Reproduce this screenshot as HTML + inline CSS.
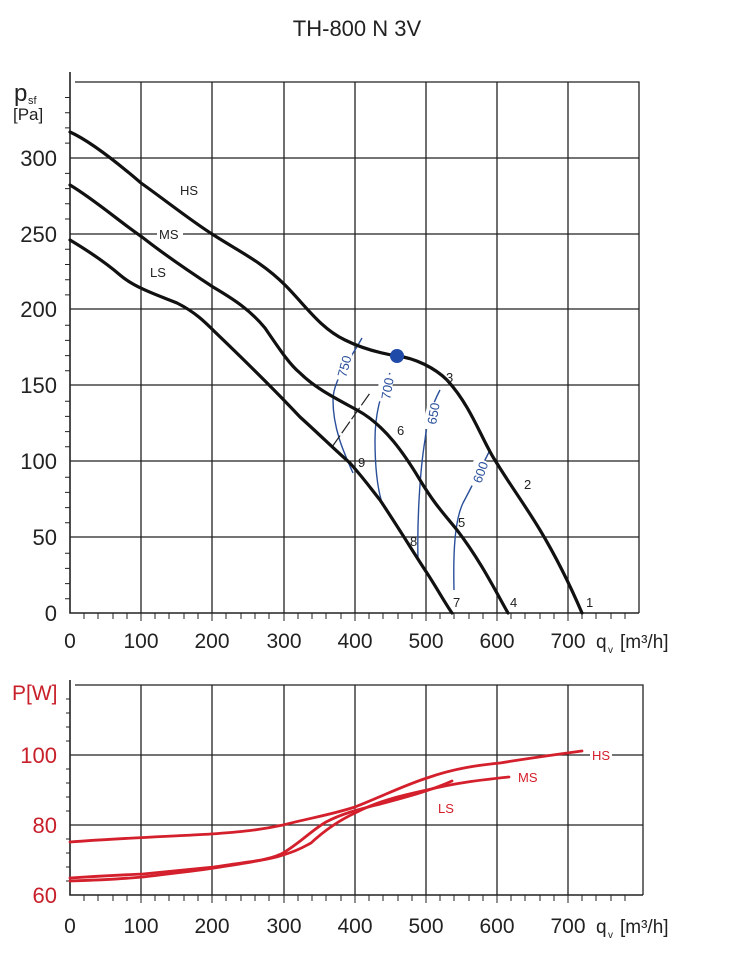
<!DOCTYPE html>
<html><head><meta charset="utf-8"><style>
html,body{margin:0;padding:0;background:#fff}
svg{display:block;font-family:"Liberation Sans",sans-serif}
</style></head><body>
<svg width="750" height="973" viewBox="0 0 750 973" xmlns="http://www.w3.org/2000/svg">
<text x="357" y="36" font-size="22" text-anchor="middle" fill="#222">TH-800 N 3V</text>
<g stroke="#222" stroke-width="1.3" fill="none">
<path d="M75 82H639V613M141 82V613M212 82V613M284 82V613M355 82V613M426 82V613M497 82V613M568 82V613"/>
<path d="M70 158H639M70 234H639M70 309H639M70 385H639M70 461H639M70 537H639"/>
<path d="M70 72V613H639" stroke-width="1.6"/>
</g>
<g stroke="#222" stroke-width="1">
<path d="M65 97.5h5M65 112.7h5M65 127.9h5M65 143.1h5M65 173.4h5M65 188.6h5M65 203.8h5M65 219h5M65 249.3h5M65 264.5h5M65 279.7h5M65 294.9h5M65 325.2h5M65 340.4h5M65 355.6h5M65 370.8h5M65 401.2h5M65 416.4h5M65 431.6h5M65 446.8h5M65 477.2h5M65 492.4h5M65 507.6h5M65 522.8h5M65 553.2h5M65 568.4h5M65 583.6h5M65 598.8h5"/>
<path d="M84 613v6M98 613v6M113 613v6M127 613v6M155 613v6M169 613v6M184 613v6M198 613v6M226 613v6M241 613v6M255 613v6M269 613v6M298 613v6M312 613v6M326 613v6M341 613v6M369 613v6M383 613v6M398 613v6M412 613v6M440 613v6M454 613v6M469 613v6M483 613v6M511 613v6M525 613v6M540 613v6M554 613v6M582 613v6M596 613v6M611 613v6M625 613v6M141 613v8M212 613v8M284 613v8M355 613v8M426 613v8M497 613v8M568 613v8"/>
</g>
<g font-size="22" fill="#222" text-anchor="end">
<text x="57" y="166">300</text><text x="57" y="242">250</text><text x="57" y="317">200</text>
<text x="57" y="393">150</text><text x="57" y="469">100</text><text x="57" y="545">50</text><text x="57" y="621">0</text>
</g>
<text x="14" y="101" font-size="24" fill="#222">p</text><text x="28" y="104" font-size="11" fill="#222">sf</text>
<text x="13" y="120" font-size="17" fill="#222">[Pa]</text>
<g font-size="21" fill="#222" text-anchor="middle">
<text x="70" y="648">0</text><text x="141" y="648">100</text><text x="212" y="648">200</text><text x="284" y="648">300</text>
<text x="355" y="648">400</text><text x="426" y="648">500</text><text x="497" y="648">600</text><text x="568" y="648">700</text>
</g>
<text x="596" y="648" font-size="19" fill="#222">q</text><text x="608" y="653" font-size="10" fill="#222">v</text>
<text x="620" y="648" font-size="19" fill="#222">[m³/h]</text>
<g stroke="#2a4f9a" stroke-width="1.4" fill="none">
<path d="M362 338 C350 360 333 380 333 400 C333 430 345 455 353 473"/>
<path d="M390 373 C380 395 375 415 375 440 C375 470 378 490 382 503"/>
<path d="M440 390 C432 405 427 420 425 440 C420 470 417 520 418 560"/>
<path d="M490 450 C480 470 470 490 463 503 C455 520 453 550 454 590"/>
</g>
<path d="M332 447 L370 393" stroke="#222" stroke-width="1.2" stroke-dasharray="14 3"/>
<g stroke="#111" stroke-width="3.2" fill="none" stroke-linejoin="round" stroke-linecap="round">
<path d="M70 132 C90 141 120 165 141 183 C165 200 190 220 212 234 C240 252 262 262 285 285 C305 305 320 328 345 340 C365 350 385 354 397 356 C415 358 435 368 447 380 C470 405 480 435 493 457 C510 485 525 505 540 530 C555 555 570 585 582 613"/>
<path d="M70 185 C95 200 120 222 142 237 C165 255 190 272 213 287 C235 300 250 310 265 328 C280 350 290 365 300 373 C315 388 335 398 357 410 C385 425 405 455 420 480 C435 505 445 515 457 530 C480 560 495 590 508 613"/>
<path d="M70 240 C90 252 105 262 120 275 C135 288 160 296 177 303 C195 312 205 322 215 332 C240 356 270 385 300 417 C320 435 335 450 350 463 C365 480 372 490 380 500 C400 530 415 555 427 573 C438 590 445 603 452 613"/>
</g>
<circle cx="397" cy="356" r="7" fill="#1f4aa8"/>
<g fill="#fff">
<rect x="157" y="226" width="26" height="15"/>
<rect x="335" y="352" width="14" height="28" transform="rotate(15 342 366)"/>
<rect x="378" y="374" width="14" height="28" transform="rotate(10 385 388)"/>
<rect x="425" y="402" width="14" height="28" transform="rotate(12 432 416)"/>
<rect x="469" y="458" width="14" height="28" transform="rotate(25 476 472)"/>
</g>
<g font-size="13" fill="#2a4f9a">
<text transform="translate(346,378) rotate(-75)">750</text>
<text transform="translate(390,400) rotate(-80)">700</text>
<text transform="translate(436,425) rotate(-80)">650</text>
<text transform="translate(481,484) rotate(-70)">600</text>
</g>
<g font-size="13" fill="#222">
<text x="180" y="195">HS</text><text x="159" y="239">MS</text><text x="150" y="277">LS</text>
<text x="586" y="607">1</text><text x="524" y="489">2</text><text x="446" y="382">3</text><text x="510" y="607">4</text>
<text x="458" y="527">5</text><text x="397" y="435">6</text><text x="453" y="607">7</text><text x="410" y="546">8</text><text x="358" y="467">9</text>
</g>
<g stroke="#222" stroke-width="1.3" fill="none">
<path d="M75 685H643V895M141 685V895M212 685V895M284 685V895M355 685V895M426 685V895M497 685V895M568 685V895"/>
<path d="M70 755H590M612 755H643M70 825H643"/>
<path d="M70 680V895H643" stroke-width="1.6"/>
</g>
<g stroke="#222" stroke-width="1">
<path d="M66 699h4M66 713h4M66 727h4M66 741h4M66 769h4M66 783h4M66 797h4M66 811h4M66 839h4M66 853h4M66 867h4M66 881h4"/>
<path d="M84 895v6M98 895v6M113 895v6M127 895v6M155 895v6M169 895v6M184 895v6M198 895v6M226 895v6M241 895v6M255 895v6M269 895v6M298 895v6M312 895v6M326 895v6M341 895v6M369 895v6M383 895v6M398 895v6M412 895v6M440 895v6M454 895v6M469 895v6M483 895v6M511 895v6M525 895v6M540 895v6M554 895v6M582 895v6M596 895v6M611 895v6M625 895v6M141 895v8M212 895v8M284 895v8M355 895v8M426 895v8M497 895v8M568 895v8"/>
</g>
<g font-size="22" fill="#c8202a" text-anchor="end">
<text x="57" y="763">100</text><text x="57" y="833">80</text><text x="57" y="903">60</text>
</g>
<text x="12" y="700" font-size="21" fill="#c8202a">P[W]</text>
<g font-size="21" fill="#222" text-anchor="middle">
<text x="70" y="933">0</text><text x="141" y="933">100</text><text x="212" y="933">200</text><text x="284" y="933">300</text>
<text x="355" y="933">400</text><text x="426" y="933">500</text><text x="497" y="933">600</text><text x="568" y="933">700</text>
</g>
<text x="596" y="933" font-size="19" fill="#222">q</text><text x="608" y="938" font-size="10" fill="#222">v</text>
<text x="620" y="933" font-size="19" fill="#222">[m³/h]</text>
<g stroke="#d4202c" stroke-width="2.8" fill="none" stroke-linecap="round">
<path d="M70 842 C120 838 180 836 211 834 C240 832 260 830 283 825 C310 818 330 815 355 807 C385 795 405 785 427 778 C455 768 480 765 500 763 C530 758 560 754 582 751"/>
<path d="M70 878 C100 876 120 875 143 874 C175 871 195 869 214 867 C245 862 270 860 283 855 C300 850 305 846 311 843 C325 830 340 820 355 813 C380 800 405 795 427 790 C455 783 480 780 509 777"/>
<path d="M70 881 C100 880 120 879 143 877 C175 873 195 871 214 868 C245 863 270 860 283 853 C300 843 312 830 326 822 C345 812 365 808 384 803 C410 796 432 790 452 781"/>
</g>
<g font-size="13" fill="#d4202c">
<text x="592" y="760">HS</text><text x="518" y="782">MS</text><text x="438" y="813">LS</text>
</g>
</svg>
</body></html>
